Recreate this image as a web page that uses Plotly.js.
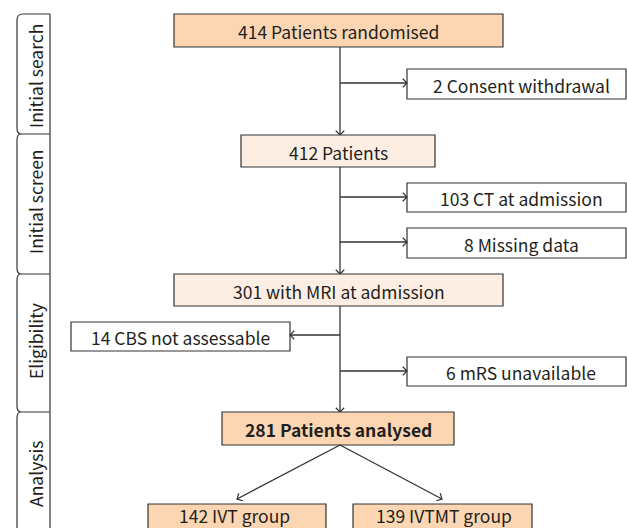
<!DOCTYPE html>
<html>
<head>
<meta charset="utf-8">
<script src="https://cdn.plot.ly/plotly-3.0.1.min.js"></script>
<style>html,body{margin:0;padding:0;background:#fff;}#chart{width:627px;height:528px;}</style>
</head>
<body>
<div id="chart"></div>
<script>
// ---- data (flow counts and labels) ----
const mainCounts = [414, 412, 301, 281];
const mainTexts = ['Patients randomised', 'Patients', 'with MRI at admission', 'Patients analysed'];
const exclusionCounts = [2, 103, 8, 14, 6];
const exclusionTexts = ['Consent withdrawal', 'CT at admission', 'Missing data', 'CBS not assessable', 'mRS unavailable'];
const groupCounts = [142, 139];
const groupTexts = ['IVT group', 'IVTMT group'];
const stageLabels = ['Initial search', 'Initial screen', 'Eligibility', 'Analysis'];

// ---- layout geometry (pixel-like coordinates, y downward) ----
const W = 627, H = 528;
const spineX = 340;
const mainBoxes = [
  {x0: 174, x1: 503, y0: 14, y1: 47, fill: '#fcd6b2', bold: false},
  {x0: 241, x1: 435, y0: 135, y1: 167, fill: '#fdeee3', bold: false},
  {x0: 174, x1: 503, y0: 274, y1: 306, fill: '#fdeee3', bold: false},
  {x0: 222, x1: 454, y0: 412, y1: 445, fill: '#fcd6b2', bold: true}
];
const exclBoxes = [
  {x0: 407, x1: 626, y0: 69, y1: 99, ty: 83, tx: 521, side: 'right'},
  {x0: 407, x1: 626, y0: 183, y1: 212, ty: 197, tx: 521, side: 'right'},
  {x0: 407, x1: 626, y0: 228, y1: 258, ty: 242, tx: 521, side: 'right'},
  {x0: 71, x1: 290, y0: 322, y1: 351, ty: 335, tx: 180.5, side: 'left'},
  {x0: 407, x1: 626, y0: 357, y1: 386, ty: 371, tx: 521, side: 'right'}
];
const groupBoxes = [
  {x0: 148, x1: 326, y0: 504, y1: 538, tipX: 237, tx: 234},
  {x0: 353, x1: 532, y0: 504, y1: 538, tipX: 442, tx: 444}
];
const groupTextY = 515;
const tabBounds = [14, 134, 274, 412, 540];
const tabTextY = [76, 202, 341, 474];
const tabL = 17, tabR = 50, rad = 6;

const LINE = '#333333';
const TXT = '#231f20';
const FONT = 'Noto Sans CJK KR, Noto Sans, sans-serif';
const FS = 17.5;

const shapes = [];
const annotations = [];

function chevron(tx, ty, dx, dy) {
  const n = Math.hypot(dx, dy); dx /= n; dy /= n;
  const L = 6, c = Math.cos(Math.PI / 4), s = Math.sin(Math.PI / 4);
  const a1x = tx - L * (dx * c - dy * s), a1y = ty - L * (dx * s + dy * c);
  const a2x = tx - L * (dx * c + dy * s), a2y = ty - L * (-dx * s + dy * c);
  shapes.push({type: 'path', xref: 'x', yref: 'y',
    path: `M${a1x},${a1y} L${tx},${ty} L${a2x},${a2y}`,
    line: {color: LINE, width: 1.2}});
}
function seg(x0, y0, x1, y1) {
  shapes.push({type: 'line', xref: 'x', yref: 'y', x0, y0, x1, y1, line: {color: LINE, width: 1.3}});
}
function box(b, fill) {
  shapes.push({type: 'rect', xref: 'x', yref: 'y', x0: b.x0, x1: b.x1, y0: b.y0, y1: b.y1,
    fillcolor: fill, line: {color: LINE, width: 1.2}, layer: 'above'});
}
function label(x, y, text, angle) {
  annotations.push({x, y, xref: 'x', yref: 'y', text, showarrow: false, textangle: angle || 0,
    font: {family: FONT, size: FS, color: TXT}, xanchor: 'center', yanchor: 'middle', borderpad: 0});
}

// main boxes + spine
mainBoxes.forEach((b, i) => {
  box(b, b.fill);
  const t = mainCounts[i] + ' ' + mainTexts[i];
  label((b.x0 + b.x1) / 2, (b.y0 + b.y1) / 2 + 1, b.bold ? '<b>' + t + '</b>' : t);
  if (i < mainBoxes.length - 1) {
    const nb = mainBoxes[i + 1];
    seg(spineX, b.y1, spineX, nb.y0);
    chevron(spineX, nb.y0, 0, 1);
  }
});

// exclusion boxes
exclBoxes.forEach((b, i) => {
  box(b, '#ffffff');
  label(b.tx, (b.y0 + b.y1) / 2 + 1, exclusionCounts[i] + ' ' + exclusionTexts[i]);
  if (b.side === 'right') {
    seg(spineX, b.ty, b.x0, b.ty);
    chevron(b.x0, b.ty, 1, 0);
  } else {
    seg(spineX, b.ty, b.x1, b.ty);
    chevron(b.x1, b.ty, -1, 0);
  }
});

// groups
const last = mainBoxes[mainBoxes.length - 1];
groupBoxes.forEach((b, i) => {
  box(b, '#fcd6b2');
  label(b.tx, groupTextY, groupCounts[i] + ' ' + groupTexts[i]);
  const tipY = b.y0 - 5;
  seg(spineX, last.y1, b.tipX, tipY);
  chevron(b.tipX, tipY, b.tipX - spineX, tipY - last.y1);
});

// stage tabs
let tabPath = `M${tabR},${tabBounds[0]} L${tabR},${tabBounds[tabBounds.length - 1]}`;
for (let i = 0; i < stageLabels.length; i++) {
  const y0 = tabBounds[i], y1 = tabBounds[i + 1];
  let p;
  if (i === 0) p = `M${tabR},${y0} L${tabL + rad},${y0} Q${tabL},${y0} ${tabL},${y0 + rad}`;
  else p = `M${tabL + 4},${y0} Q${tabL},${y0} ${tabL},${y0 + rad}`;
  if (i < stageLabels.length - 1) p += ` L${tabL},${y1 - rad} Q${tabL},${y1} ${tabL + 4},${y1} L${tabR},${y1}`;
  else p += ` L${tabL},${y1}`;
  tabPath += ' ' + p;
  label(35, tabTextY[i], stageLabels[i], -90);
}
shapes.push({type: 'path', xref: 'x', yref: 'y', path: tabPath, line: {color: LINE, width: 1.2}});

const layout = {
  width: W, height: H,
  margin: {l: 0, r: 0, t: 0, b: 0, pad: 0},
  paper_bgcolor: '#ffffff', plot_bgcolor: '#ffffff',
  xaxis: {range: [0, W], visible: false, fixedrange: true},
  yaxis: {range: [H, 0], visible: false, fixedrange: true},
  showlegend: false,
  shapes, annotations
};
Plotly.newPlot('chart', [], layout, {staticPlot: true, displayModeBar: false});
</script>
</body>
</html>
